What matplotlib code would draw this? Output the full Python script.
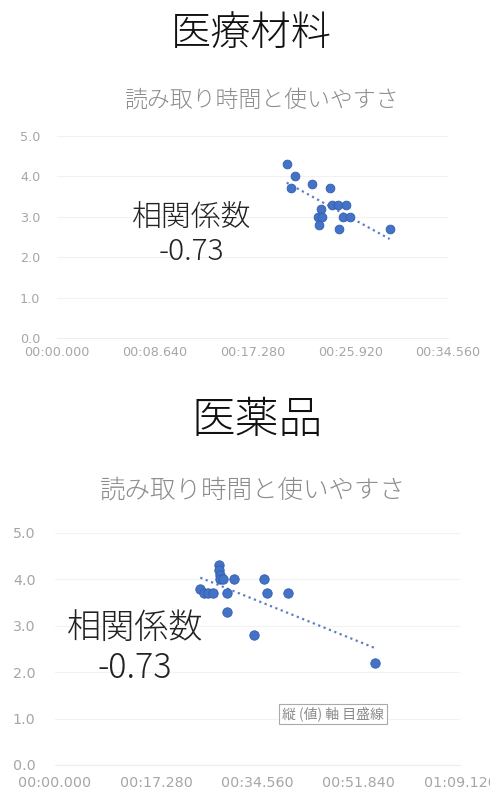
"""
Two Excel-style scatter charts: reading time vs. ease of use,
for medical materials (top) and medicines (bottom).
"""

import numpy as np
import matplotlib
matplotlib.use("Agg")
import matplotlib.pyplot as plt
from matplotlib.ticker import FuncFormatter, MultipleLocator

plt.rcParams["font.family"] = ["Noto Sans CJK JP", "DejaVu Sans"]

# ---------------------------------------------------------------------------
# Data (reading time in seconds, ease-of-use score)
# ---------------------------------------------------------------------------
mat_time = [20.3, 21.0, 20.7, 22.5, 24.1, 23.3, 23.1, 23.4, 23.2,
            24.3, 24.8, 25.5, 25.3, 25.9, 24.9, 29.4]
mat_score = [4.3, 4.0, 3.7, 3.8, 3.7, 3.2, 3.0, 3.0, 2.8,
             3.3, 3.3, 3.3, 3.0, 3.0, 2.7, 2.7]

med_time = [24.8, 25.5, 26.2, 27.0, 28.0, 28.0, 28.1, 28.2, 28.7, 29.4,
            29.4, 30.6, 34.0, 35.6, 36.2, 39.7, 54.7]
med_score = [3.8, 3.7, 3.7, 3.7, 4.3, 4.2, 4.1, 4.0, 4.0, 3.7,
             3.3, 4.0, 2.8, 4.0, 3.7, 3.7, 2.2]

titles = ["医療材料", "医薬品"]
subtitle = "読み取り時間と使いやすさ"
corr_label = "相関係数\n-0.73"

BLUE = "#4472C4"
GRAY = "#a6a6a6"


def fmt_time(sec, _pos=None):
    m = int(sec // 60)
    s = sec - m * 60
    return f"{m:02d}:{s:06.3f}"


def scatter_panel(ax, t, v, step, xmax, tick_size, pad_x, pad_y, msize):
    ax.scatter(t, v, s=msize, color=BLUE, edgecolor="#2f5fb3",
               linewidth=0.6, zorder=3)
    # linear trendline over the data range
    k, b = np.polyfit(t, v, 1)
    xs = np.array([min(t), max(t)])
    ax.plot(xs, k * xs + b, linestyle=(0, (1, 1.6)), color="#5b7fc4",
            linewidth=1.6, zorder=2)

    ax.set_xlim(0, xmax)
    ax.set_ylim(0, 5)
    ax.xaxis.set_major_locator(MultipleLocator(step))
    ax.xaxis.set_major_formatter(FuncFormatter(fmt_time))
    ax.yaxis.set_major_locator(MultipleLocator(1))
    ax.yaxis.set_major_formatter(FuncFormatter(lambda y, _p: f"{y:.1f}"))
    ax.grid(axis="y", color="#f2f2f2", linewidth=0.8)
    ax.set_axisbelow(True)
    for name, sp in ax.spines.items():
        sp.set_visible(name == "bottom")
    ax.spines["bottom"].set_color("#eeeeee")
    ax.tick_params(axis="x", length=0, pad=pad_x, labelsize=tick_size,
                   labelcolor=GRAY)
    ax.tick_params(axis="y", length=0, pad=pad_y, labelsize=tick_size,
                   labelcolor=GRAY)
    for lab in ax.get_xticklabels() + ax.get_yticklabels():
        lab.set_family("DejaVu Sans")


fig = plt.figure(figsize=(4.9, 7.97), dpi=100)

# top: medical materials
ax1 = fig.add_axes([0.1163, 0.5759, 0.798, 0.2535])
scatter_panel(ax1, mat_time, mat_score, 8.64, 34.56, 9.2, 6, 12, 40)
fig.text(0.513, 0.958, titles[0], ha="center", va="center",
         fontsize=29, fontweight="light", color="#111111")
fig.text(0.533, 0.874, subtitle, ha="center", va="center",
         fontsize=16.5, fontweight="light", color="#8c8c8c")
fig.text(0.391, 0.706, corr_label, ha="center", va="center",
         fontsize=21.5, fontweight="light", color="#222222",
         linespacing=1.15)

# bottom: medicines
ax2 = fig.add_axes([0.1122, 0.0402, 0.8265, 0.2911])
scatter_panel(ax2, med_time, med_score, 17.28, 69.12, 10.3, 8, 14, 46)
fig.text(0.525, 0.472, titles[1], ha="center", va="center",
         fontsize=31.5, fontweight="light", color="#111111")
fig.text(0.517, 0.385, subtitle, ha="center", va="center",
         fontsize=18.4, fontweight="light", color="#8c8c8c")
fig.text(0.276, 0.187, corr_label, ha="center", va="center",
         fontsize=24.6, fontweight="light", color="#222222",
         linespacing=1.15)

# Excel tooltip left in the screenshot
fig.text(0.68, 0.104, "縦 (値) 軸 目盛線", ha="center", va="center",
         fontsize=10, color="#8a8a8a",
         bbox=dict(boxstyle="square,pad=0.2", facecolor="white",
                   edgecolor="#aaaaaa", linewidth=0.8))

plt.savefig("out.png", dpi=100)
plt.close()
